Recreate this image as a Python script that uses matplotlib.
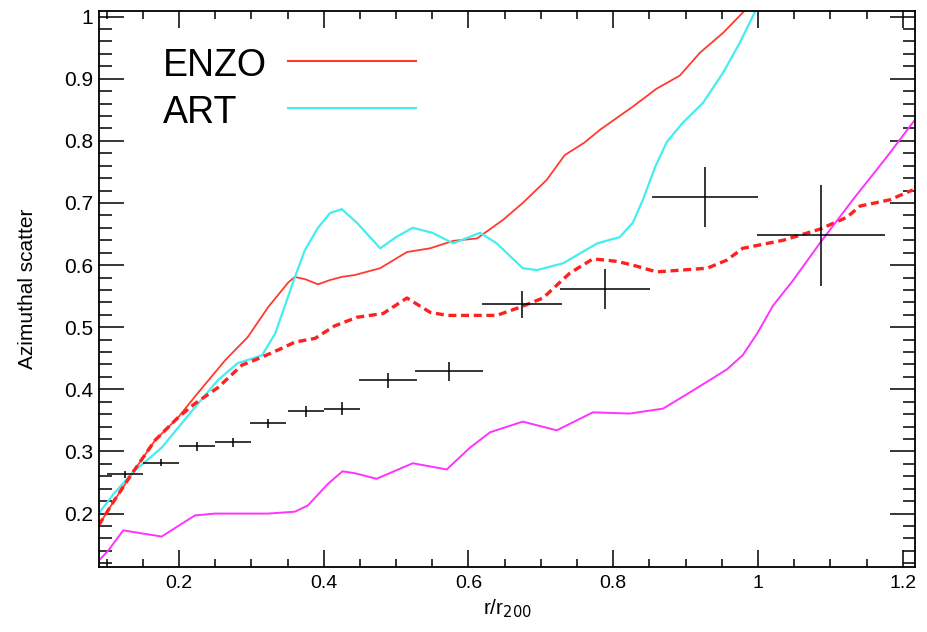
import matplotlib
matplotlib.use("Agg")
import matplotlib.pyplot as plt
from matplotlib.lines import Line2D
from matplotlib.ticker import MultipleLocator

# ENZO solid curve
enzo_x = [0.089, 0.11, 0.136, 0.167, 0.199, 0.226, 0.264, 0.295, 0.323, 0.351, 0.36,
          0.375, 0.392, 0.409, 0.425, 0.443, 0.478, 0.515, 0.547, 0.579, 0.612, 0.648,
          0.675, 0.708, 0.733, 0.76, 0.782, 0.827, 0.86, 0.892, 0.92, 0.952, 0.982]
enzo_y = [0.181, 0.22, 0.266, 0.318, 0.355, 0.394, 0.447, 0.484, 0.532, 0.572, 0.581,
          0.577, 0.569, 0.576, 0.581, 0.584, 0.595, 0.621, 0.627, 0.639, 0.643, 0.673,
          0.70, 0.737, 0.777, 0.797, 0.818, 0.855, 0.884, 0.905, 0.942, 0.974, 1.01]

# ART solid curve
art_x = [0.089, 0.11, 0.136, 0.176, 0.222, 0.254, 0.281, 0.315, 0.333, 0.36, 0.374,
         0.392, 0.409, 0.425, 0.446, 0.478, 0.50, 0.523, 0.55, 0.579, 0.616, 0.639,
         0.675, 0.695, 0.731, 0.778, 0.809, 0.827, 0.841, 0.858, 0.874, 0.896, 0.924,
         0.952, 0.975, 0.997]
art_y = [0.20, 0.232, 0.266, 0.306, 0.371, 0.415, 0.442, 0.455, 0.49, 0.58, 0.624,
         0.66, 0.684, 0.69, 0.668, 0.627, 0.645, 0.66, 0.652, 0.635, 0.652, 0.635,
         0.595, 0.592, 0.603, 0.635, 0.645, 0.668, 0.705, 0.758, 0.798, 0.829, 0.861,
         0.91, 0.958, 1.01]

# dashed red curve
dash_x = [0.089, 0.11, 0.136, 0.167, 0.199, 0.222, 0.254, 0.287, 0.315, 0.342, 0.36,
          0.388, 0.415, 0.446, 0.482, 0.515, 0.547, 0.57, 0.60, 0.639, 0.671, 0.703,
          0.74, 0.772, 0.805, 0.827, 0.86, 0.93, 0.957, 0.979, 1.035, 1.086, 1.123,
          1.141, 1.182, 1.214]
dash_y = [0.181, 0.22, 0.266, 0.318, 0.355, 0.377, 0.403, 0.439, 0.452, 0.466, 0.476,
          0.482, 0.502, 0.516, 0.522, 0.547, 0.524, 0.519, 0.519, 0.519, 0.532, 0.547,
          0.587, 0.61, 0.606, 0.60, 0.589, 0.595, 0.608, 0.627, 0.64, 0.658, 0.677,
          0.695, 0.705, 0.721]

# magenta curve
mag_x = [0.089, 0.102, 0.123, 0.176, 0.222, 0.25, 0.323, 0.36, 0.378, 0.406, 0.426,
         0.443, 0.473, 0.523, 0.57, 0.602, 0.63, 0.675, 0.722, 0.772, 0.823, 0.869,
         0.91, 0.957, 0.979, 0.999, 1.021, 1.047, 1.086, 1.131, 1.178, 1.217]
mag_y = [0.124, 0.14, 0.173, 0.163, 0.197, 0.20, 0.20, 0.203, 0.213, 0.248, 0.268,
         0.265, 0.256, 0.281, 0.271, 0.306, 0.331, 0.348, 0.334, 0.363, 0.361, 0.369,
         0.398, 0.432, 0.455, 0.49, 0.535, 0.573, 0.636, 0.705, 0.774, 0.834]

# black points with error bars
pts_x = [0.125, 0.175, 0.225, 0.275, 0.323, 0.375, 0.425, 0.489, 0.573, 0.674, 0.789, 0.927, 1.087]
pts_y = [0.263, 0.282, 0.308, 0.3145, 0.345, 0.3645, 0.369, 0.4145, 0.429, 0.537, 0.561, 0.71, 0.648]
pts_xerr = [0.025, 0.025, 0.025, 0.025, 0.025, 0.025, 0.025, 0.04, 0.047, 0.055, 0.062, 0.073, 0.088]
pts_yerr = [0.005, 0.006, 0.007, 0.007, 0.008, 0.009, 0.01, 0.012, 0.015, 0.022, 0.032, 0.048, 0.081]

legend_labels = ["ENZO", "ART"]
enzo_color = "#ff3b30"
art_color = "#44eef0"

plt.rcParams["font.family"] = ["Liberation Sans", "DejaVu Sans"]

fig = plt.figure(figsize=(9.28, 6.32), dpi=100)
ax = fig.add_axes([99 / 928, 1 - 567 / 632, 816 / 928, 556 / 632])

ax.plot(enzo_x, enzo_y, color=enzo_color, lw=1.3)
ax.plot(art_x, art_y, color=art_color, lw=1.6)
ax.plot(dash_x, dash_y, color="#ff2020", lw=2.4, dashes=(2.4, 1.4))
ax.plot(mag_x, mag_y, color="#ff33ff", lw=1.4)
ax.errorbar(pts_x, pts_y, xerr=pts_xerr, yerr=pts_yerr, fmt="none",
            ecolor="black", elinewidth=1.1, capsize=0)

ax.set_xlim(0.0895, 1.217)
ax.set_ylim(0.114, 1.009)

ax.xaxis.set_minor_locator(MultipleLocator(0.05))
ax.yaxis.set_minor_locator(MultipleLocator(0.02))
ax.set_xticks([0.2, 0.4, 0.6, 0.8, 1.0, 1.2])
ax.set_xticklabels(["0.2", "0.4", "0.6", "0.8", "1", "1.2"])
ax.set_yticks([0.2, 0.3, 0.4, 0.5, 0.6, 0.7, 0.8, 0.9, 1.0])
ax.set_yticklabels(["0.2", "0.3", "0.4", "0.5", "0.6", "0.7", "0.8", "0.9", "1"])

ax.tick_params(axis="both", which="both", direction="in", top=True, right=True, width=1.1)
ax.tick_params(axis="y", which="major", length=18, labelsize=15, pad=4)
ax.tick_params(axis="y", which="minor", length=9)
ax.tick_params(axis="x", which="major", length=12, labelsize=14, pad=6)
ax.tick_params(axis="x", which="minor", length=6)
for s in ax.spines.values():
    s.set_linewidth(1.3)

ax.set_xlabel("r/r$_{200}$", fontsize=15, labelpad=4)
ax.set_ylabel("Azimuthal scatter", fontsize=15, labelpad=20)

# legend: labels left aligned, swatches aligned to the right of them
for i, (lab, col) in enumerate(zip(legend_labels, [enzo_color, art_color])):
    base = 76 + i * 47
    fig.text(163 / 928, 1 - base / 632, lab, fontsize=27, va="baseline", ha="left")
    ly = 1 - (base - 15) / 632
    fig.add_artist(Line2D([288 / 928, 416 / 928], [ly, ly], color=col, lw=1.5,
                          transform=fig.transFigure))

fig.savefig("out.png", dpi=100)
